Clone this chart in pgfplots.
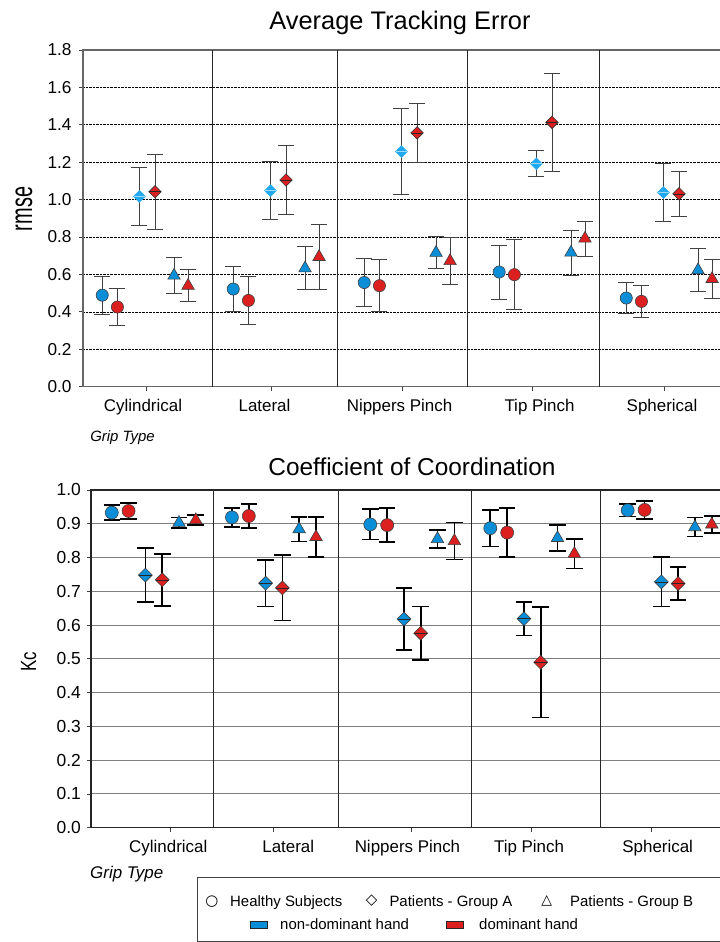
\documentclass[border=0pt]{standalone}
\usepackage{fontspec}
\setmainfont{Liberation Sans}
\setsansfont{Liberation Sans}
\newfontfamily\symfont{DejaVu Sans}
\usepackage{graphicx}
\usepackage{pgfplots}
\usepackage{pgfplotstable}
\pgfplotsset{compat=1.18}

\definecolor{cblue}{HTML}{0A8ED8}
\definecolor{lblue}{HTML}{22A8EE}
\definecolor{cred}{HTML}{DC1F1F}
\newcommand{\fs}[1]{\fontsize{#1}{#1}\selectfont}

% ---------- top chart: rmse (x = category position, y = mean, e = sd) ----------
\pgfplotstableread{
x y e
-0.334 0.489 0.100
0.666 0.522 0.120
1.666 0.557 0.130
2.696 0.613 0.145
3.666 0.474 0.083
}\tHnd
\pgfplotstableread{
x y e
-0.218 0.426 0.100
0.782 0.461 0.130
1.782 0.540 0.140
2.812 0.599 0.186
3.782 0.456 0.084
}\tHd
\pgfplotstableread{
x y e
-0.050 1.017 0.155
0.950 1.048 0.154
1.950 1.257 0.231
2.980 1.192 0.070
3.950 1.038 0.155
}\tAnd
\pgfplotstableread{
x y e
0.069 1.042 0.202
1.069 1.105 0.186
2.069 1.357 0.159
3.099 1.413 0.263
4.069 1.031 0.121
}\tAd
\pgfplotstableread{
x y e
0.214 0.594 0.095
1.214 0.633 0.115
2.214 0.716 0.086
3.244 0.717 0.120
4.214 0.623 0.114
}\tBnd
\pgfplotstableread{
x y e
0.321 0.540 0.086
1.321 0.694 0.175
2.321 0.672 0.125
3.351 0.792 0.094
4.321 0.576 0.102
}\tBd

% ---------- bottom chart: Kc ----------
\pgfplotstableread{
x y e
-0.261 0.933 0.022
0.656 0.919 0.028
1.712 0.898 0.045
2.628 0.887 0.054
3.677 0.940 0.019
}\bHnd
\pgfplotstableread{
x y e
-0.133 0.938 0.024
0.785 0.923 0.035
1.841 0.896 0.050
2.757 0.874 0.072
3.806 0.941 0.027
}\bHd
\pgfplotstableread{
x y e
-0.005 0.748 0.080
0.913 0.724 0.069
1.969 0.618 0.092
2.885 0.619 0.050
3.934 0.728 0.073
}\bAnd
\pgfplotstableread{
x y e
0.124 0.734 0.077
1.041 0.710 0.097
2.097 0.576 0.079
3.013 0.490 0.164
4.062 0.723 0.049
}\bAd
\pgfplotstableread{
x y e
0.252 0.903 0.015
1.169 0.884 0.036
2.225 0.855 0.026
3.141 0.858 0.038
4.190 0.890 0.028
}\bBnd
\pgfplotstableread{
x y e
0.380 0.911 0.015
1.298 0.861 0.059
2.354 0.849 0.055
3.270 0.811 0.044
4.319 0.898 0.025
}\bBd

\pgfplotsset{
  errtop/.style={error bars/y dir=both, error bars/y explicit,
     error bars/error bar style={line width=0.8bp, black!75},
     error bars/error mark options={rotate=90, mark size=8bp, line width=0.8bp, black!75}},
  errbot/.style={error bars/y dir=both, error bars/y explicit,
     error bars/error bar style={line width=1.6bp, black},
     error bars/error mark options={rotate=90, mark size=8.3bp, line width=1.6bp, black}},
  common/.style={
     scale only axis, anchor=south west,
     tick align=outside, tick pos=left,
     major tick length=0pt, minor tick length=4bp,
     tick style={line width=0.8bp, black!75},
     /pgf/number format/assume math mode=true,
     xticklabel style={font=\fs{17}, anchor=base, inner sep=0pt, yshift=-25.3bp},
     yticklabel style={font=\fs{17.3}, anchor=east, inner sep=0pt},
     yticklabel={\pgfmathprintnumber[fixed,fixed zerofill,precision=1]{\tick}},
     xticklabels={Cylindrical,Lateral,Nippers Pinch,Tip Pinch,Spherical},
     ymajorgrids,
     extra x tick labels={},
     extra x tick style={grid=major, major grid style={solid, black!85, line width=0.9bp}},
  },
}

\begin{document}
\begin{tikzpicture}
\useasboundingbox (0bp,0bp) rectangle (720bp,942bp);
\clip (0bp,0bp) rectangle (720bp,942bp);

% ================= TOP =================
\begin{axis}[common,
  at={(83bp,555.3bp)}, width=642bp, height=336.7bp,
  xmin=-0.4809, xmax=4.4198, ymin=0, ymax=1.8,
  axis line style={line width=1.2bp, black!60},
  xtick={-0.0229,0.9046,1.9351,3.0038,3.9390},
  minor xtick={0,0.9595,1.9595,2.9519,3.9542},
  ytick={0,0.2,...,1.8}, minor ytick={0,0.2,...,1.8},
  yticklabel style={xshift=-11.3bp},
  major grid style={densely dotted, black, line width=0.7bp},
  extra x ticks={0.504,1.458,2.450,3.458},
]
\addplot[only marks, mark=*, mark size=6.1bp, mark options={fill=cblue, draw=black!75, line width=0.6bp}, errtop]
  table[x=x, y=y, y error=e]{\tHnd};
\addplot[only marks, mark=*, mark size=6.1bp, mark options={fill=cred, draw=black!75, line width=0.6bp}, errtop]
  table[x=x, y=y, y error=e]{\tHd};
\addplot[only marks, mark=square*, mark size=4.3bp, mark options={rotate=45, fill=lblue, draw=lblue, line width=0.3bp}, errtop]
  table[x=x, y=y, y error=e]{\tAnd};
\addplot[only marks, mark=-, mark size=5.3bp, mark options={draw=lblue!45!white, line width=0.5bp}]
  table[x=x, y=y]{\tAnd};
\addplot[only marks, mark=square*, mark size=4.4bp, mark options={rotate=45, fill=cred, draw=black!80, line width=0.6bp}, errtop]
  table[x=x, y=y, y error=e]{\tAd};
\addplot[only marks, mark=-, mark size=5.8bp, mark options={draw=black!85, line width=0.6bp}]
  table[x=x, y=y]{\tAd};
\addplot[only marks, mark=triangle*, mark size=7.2bp, mark options={fill=cblue, draw=black!75, line width=0.6bp}, errtop]
  table[x=x, y=y, y error=e]{\tBnd};
\addplot[only marks, mark=triangle*, mark size=7.2bp, mark options={fill=cred, draw=black!75, line width=0.6bp}, errtop]
  table[x=x, y=y, y error=e]{\tBd};
\end{axis}

% ================= BOTTOM =================
\begin{axis}[common,
  at={(91bp,114.3bp)}, width=634bp, height=337.7bp,
  xmin=-0.4198, xmax=4.4198, ymin=0, ymax=1.0,
  axis line style={line width=1.2bp, black!85},
  xtick={0.170,1.086,1.996,2.924,3.906},
  minor xtick={0.188,0.972,2.028,2.944,3.860},
  ytick={0,0.1,...,1.0}, minor ytick={0,0.1,...,1.0},
  yticklabel style={xshift=-10bp, font=\fs{17.5}},
  major grid style={solid, black!50, line width=0.9bp},
  extra x ticks={0.514,1.471,2.481,3.466},
]
\addplot[only marks, mark=*, mark size=6.5bp, mark options={fill=cblue, draw=black!75, line width=0.6bp}, errbot]
  table[x=x, y=y, y error=e]{\bHnd};
\addplot[only marks, mark=*, mark size=6.5bp, mark options={fill=cred, draw=black!75, line width=0.6bp}, errbot]
  table[x=x, y=y, y error=e]{\bHd};
\addplot[only marks, mark=square*, mark size=4.9bp, mark options={rotate=45, fill=cblue, draw=black!75, line width=0.6bp}, errbot]
  table[x=x, y=y, y error=e]{\bAnd};
\addplot[only marks, mark=-, mark size=6.4bp, mark options={draw=black!85, line width=0.6bp}]
  table[x=x, y=y]{\bAnd};
\addplot[only marks, mark=square*, mark size=4.9bp, mark options={rotate=45, fill=cred, draw=black!75, line width=0.6bp}, errbot]
  table[x=x, y=y, y error=e]{\bAd};
\addplot[only marks, mark=-, mark size=6.4bp, mark options={draw=black!85, line width=0.6bp}]
  table[x=x, y=y]{\bAd};
\addplot[only marks, mark=triangle*, mark size=7.2bp, mark options={fill=cblue, draw=black!75, line width=0.6bp}, errbot]
  table[x=x, y=y, y error=e]{\bBnd};
\addplot[only marks, mark=triangle*, mark size=7.2bp, mark options={fill=cred, draw=black!75, line width=0.6bp}, errbot]
  table[x=x, y=y, y error=e]{\bBd};
\end{axis}

% ================= texts =================
\node[anchor=base, inner sep=0pt, font=\fs{25.5}] at (400bp,912.7bp) {Average Tracking Error};
\node[anchor=base, inner sep=0pt, font=\fs{24.5}] at (412bp,466bp) {Coefficient of Coordination};
\node[rotate=90, inner sep=0pt, font=\fs{20}] at (24bp,733bp) {\scalebox{1}[1.55]{rmse}};
\node[rotate=90, inner sep=0pt, font=\fs{17}] at (28.7bp,280.3bp) {\scalebox{1}[1.3]{Kc}};
\node[anchor=base east, inner sep=0pt, font=\fs{15}\itshape] at (155bp,500bp) {Grip Type};
\node[anchor=base west, inner sep=0pt, font=\fs{17}\itshape] at (90bp,63bp) {Grip Type};

% ================= legend =================
\draw[line width=1bp, black!75] (197.3bp,1bp) rectangle (730bp,64.7bp);
\node[inner sep=0pt, font=\symfont\fs{15}] at (212bp,40.8bp) {○};
\node[inner sep=0pt, font=\symfont\fs{15}] at (371.7bp,41bp) {◇};
\node[inner sep=0pt, font=\symfont\fs{14}] at (546.7bp,41.5bp) {△};
\node[anchor=base west, inner sep=0pt, font=\fs{15}] at (230bp,36bp) {Healthy Subjects};
\node[anchor=base west, inner sep=0pt, font=\fs{15}] at (389.3bp,36bp) {Patients - Group A};
\node[anchor=base west, inner sep=0pt, font=\fs{15}] at (570bp,36bp) {Patients - Group B};
\node[draw=black!85, line width=0.7bp, fill=cblue, minimum width=16.7bp, minimum height=7.3bp, inner sep=0pt] at (259bp,17.4bp) {};
\node[draw=black!85, line width=0.7bp, fill=cred, minimum width=16.7bp, minimum height=7.3bp, inner sep=0pt] at (455bp,17.4bp) {};
\node[anchor=base west, inner sep=0pt, font=\fs{15}] at (280bp,12.7bp) {non-dominant hand};
\node[anchor=base west, inner sep=0pt, font=\fs{15}] at (479bp,12.7bp) {dominant hand};
\end{tikzpicture}
\end{document}
